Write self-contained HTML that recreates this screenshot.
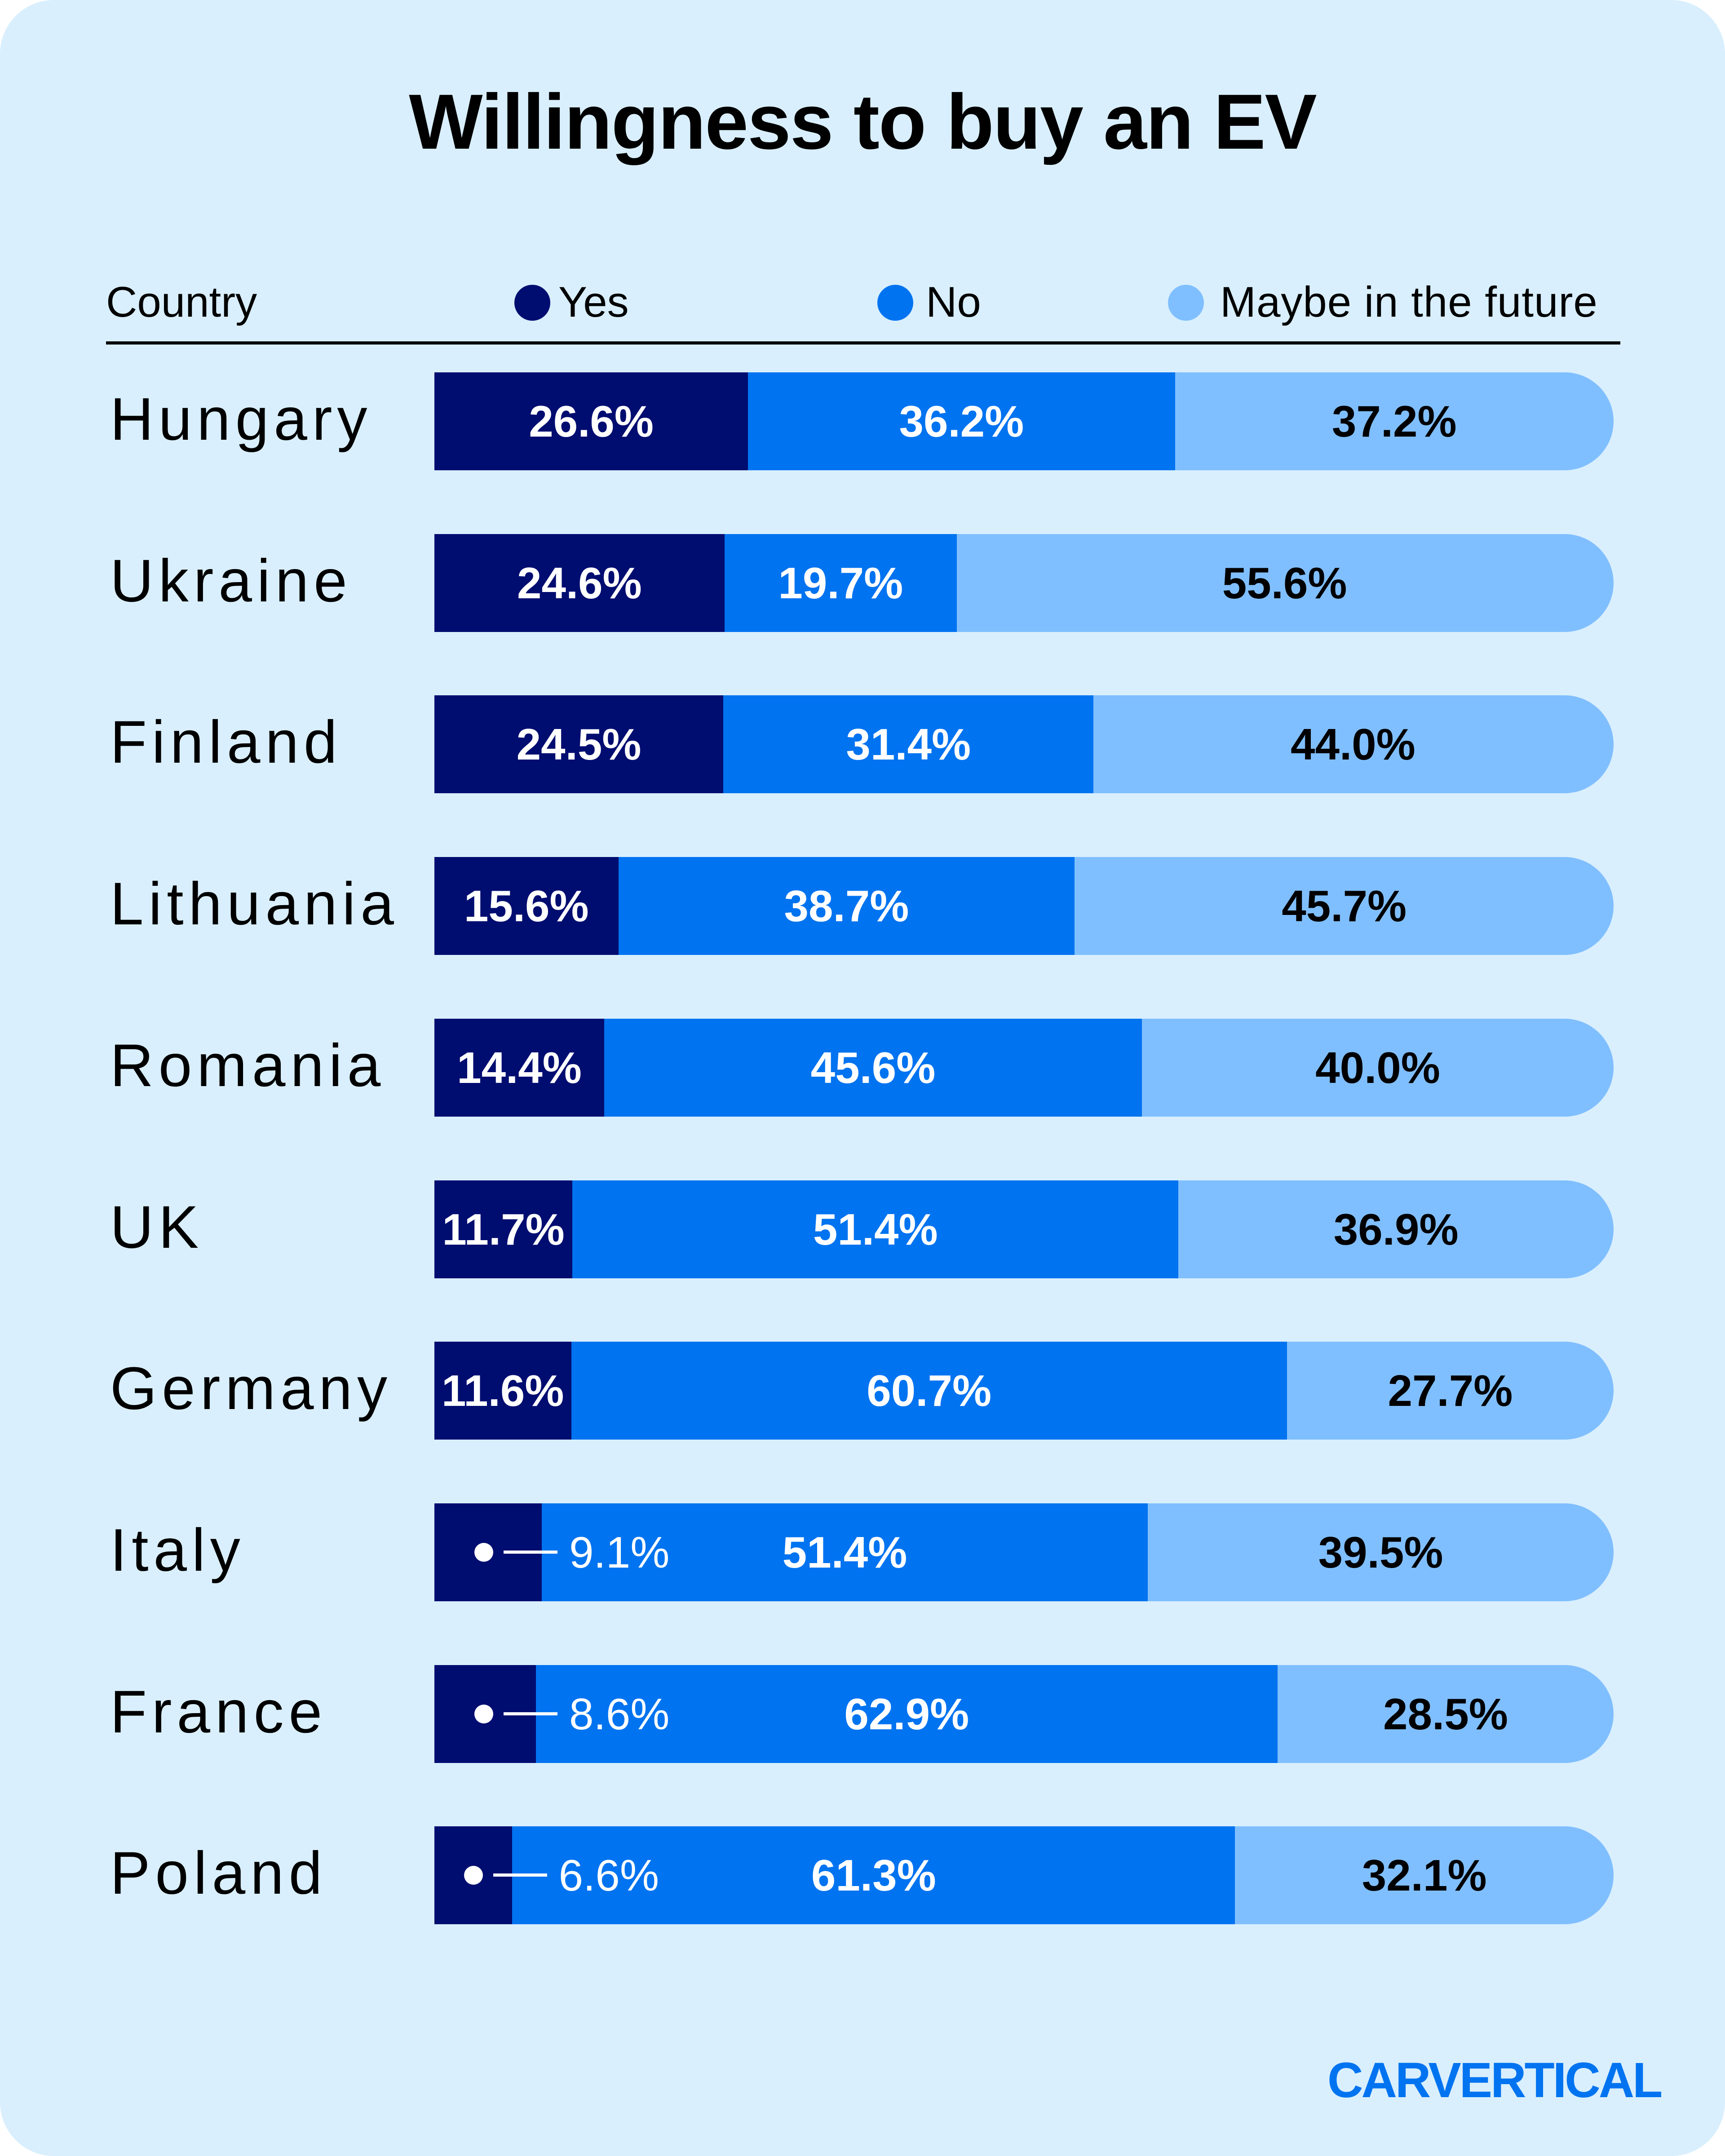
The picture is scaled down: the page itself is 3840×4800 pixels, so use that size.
<!DOCTYPE html>
<html><head><meta charset="utf-8"><style>
html,body{margin:0;padding:0;background:#fff;}
#card{position:absolute;left:0;top:0;width:3840px;height:4800px;background:#d9effd;border-radius:120px;overflow:hidden;font-family:"Liberation Sans",sans-serif;}
.t{position:absolute;white-space:nowrap;}
</style></head><body>
<div id="card">
<div class="t" style="left:0;width:3840px;text-align:center;top:170px;font-size:174px;font-weight:bold;color:#000;letter-spacing:-2px;">Willingness to buy an EV</div>
<div class="t" style="left:236px;top:618px;font-size:96px;color:#000;">Country</div>
<div style="position:absolute;left:1145px;top:634px;width:80px;height:80px;border-radius:50%;background:#000d70;"></div>
<div class="t" style="left:1243px;top:618px;font-size:96px;">Yes</div>
<div style="position:absolute;left:1953px;top:634px;width:80px;height:80px;border-radius:50%;background:#0073f0;"></div>
<div class="t" style="left:2061px;top:618px;font-size:96px;">No</div>
<div style="position:absolute;left:2600px;top:634px;width:80px;height:80px;border-radius:50%;background:#80bfff;"></div>
<div class="t" style="left:2716px;top:618px;font-size:96px;letter-spacing:1px;">Maybe in the future</div>
<div style="position:absolute;left:236px;top:760px;width:3371px;height:7px;background:#000;"></div>
<div class="t" style="left:2955px;top:4568px;font-size:110px;font-weight:bold;color:#0073f0;letter-spacing:-4px;">CARVERTICAL</div>
</div>
<script>
const countries=["Hungary","Ukraine","Finland","Lithuania","Romania","UK","Germany","Italy","France","Poland"];
const yesVals=[26.6,24.6,24.5,15.6,14.4,11.7,11.6,9.1,8.6,6.6];
const noVals=[36.2,19.7,31.4,38.7,45.6,51.4,60.7,51.4,62.9,61.3];
const maybeVals=[37.2,55.6,44.0,45.7,40.0,36.9,27.7,39.5,28.5,32.1];
const X0=967,W=2625,TOP0=829,STEP=359.7,H=218;
const xs=v=>v/100*W;
const card=document.getElementById('card');
function mk(tag,css){const e=document.createElement(tag);e.style.cssText=css;card.appendChild(e);return e;}
countries.forEach((c,i)=>{
  const top=TOP0+i*STEP;
  const lab=mk('div',`position:absolute;left:245px;top:${top+109-84}px;font-size:134px;letter-spacing:11px;color:#000;white-space:nowrap;line-height:160px;`);
  lab.textContent=c;
  
  
  const vals=[yesVals[i],noVals[i],maybeVals[i]];
  const cols=['#000d70','#0073f0','#80bfff'];
  const tcol=['#fff','#fff','#000'];
  const names=['bar-yes','bar-no','bar-maybe'];
  let x=X0;
  vals.forEach((v,k)=>{
    const w=xs(v);
    const last=k===2;
    const seg=mk('div',`position:absolute;left:${x}px;top:${top}px;width:${last?X0+W-x:w}px;height:${H}px;background:${cols[k]};${last?'border-radius:0 109px 109px 0;':''}`);
    
    
    x+=w;
  });
  x=X0;
  vals.forEach((v,k)=>{
    const w=xs(v);
    const small=(k===0&&v<10);
    if(!small){
      const t=mk('div',`position:absolute;z-index:2;left:${x}px;top:${top}px;width:${w}px;height:${H}px;line-height:${H}px;text-align:center;font-size:98px;font-weight:bold;color:${tcol[k]};white-space:nowrap;`);
      t.textContent=v.toFixed(1)+'%';
      
      
    } else {
      const cx=X0+Math.min(w/2,110);
      const d=mk('div',`position:absolute;z-index:2;left:${cx-21}px;top:${top+H/2-21}px;width:42px;height:42px;border-radius:50%;background:#fff;`);
      
      
      const ln=mk('div',`position:absolute;z-index:2;left:${cx+44}px;top:${top+H/2-4}px;width:120px;height:7px;background:#fff;`);
      
      
      const t=mk('div',`position:absolute;z-index:2;left:${cx+190}px;top:${top}px;height:${H}px;line-height:${H}px;font-size:98px;color:#fff;white-space:nowrap;`);
      t.textContent=v.toFixed(1)+'%';
      
      
    }
    x+=w;
  });
});
</script>
</body></html>
